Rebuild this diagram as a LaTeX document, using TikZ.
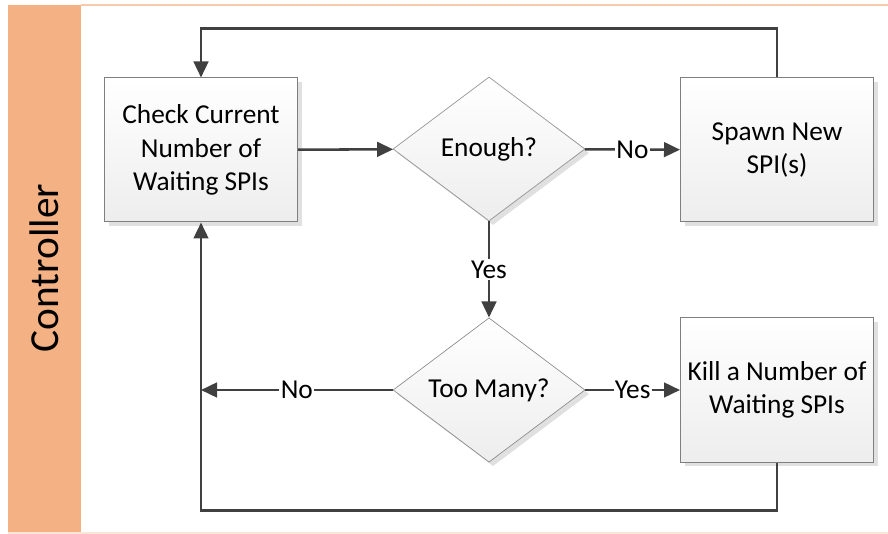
\documentclass[tikz,border=0pt]{standalone}
\usepackage{fontspec}
\setmainfont{Carlito}
\usepackage{tikz}
\usetikzlibrary{arrows.meta, shapes.geometric, shadows, positioning}

\definecolor{laneorange}{HTML}{F4B183}
\definecolor{laneline}{HTML}{F8CBAD}
\definecolor{lanelow}{HTML}{FBE5D6}
\definecolor{flowgray}{HTML}{404040}
\definecolor{edgegray}{HTML}{7F7F7F}

\tikzset{
  procbox/.style={draw=edgegray, line width=0.75pt, top color=white, bottom color=black!7,
    minimum width=144.75pt, minimum height=108pt, align=center, font=\fontsize{20.5}{25}\selectfont,
    drop shadow={shadow xshift=3pt, shadow yshift=-3pt, fill=black!12, opacity=1}},
  decide/.style={diamond, draw=edgegray!90, line width=0.5pt, top color=white, bottom color=black!7,
    minimum width=144pt, minimum height=108pt, inner sep=0pt, font=\fontsize{20.5}{25}\selectfont,
    drop shadow={shadow xshift=3pt, shadow yshift=-3pt, fill=black!12, opacity=1}},
  flow/.style={draw=flowgray, line width=1.9pt, -{Triangle[length=12pt,width=11pt]}},
  lbl/.style={fill=white, inner sep=1pt, font=\fontsize{20.5}{25}\selectfont}
}

\begin{document}
\begin{tikzpicture}[x=0.75pt, y=-0.75pt]
    \useasboundingbox (0,0) rectangle (888,534);

    % lane
    \fill[laneorange] (8,5) rectangle (81,534);
    \draw[laneline, line width=1pt] (81,5) -- (888,5);
    \draw[lanelow, line width=1pt] (8,533) -- (888,533);
    \node[rotate=90, font=\fontsize{31}{36}\selectfont] (lane) at (44.5,268) {Controller};

    % steps
    \node[procbox] (check) at (201,150) {Check Current\\Number of\\Waiting SPIs};
    \node[decide] (enough) at (489,149) {Enough?};
    \node[procbox] (spawn) at (777,150) {Spawn New\\SPI(s)};
    \node[decide] (toomany) at (489,390) {Too Many?};
    \node[procbox] (kill) at (777,390) {Kill a Number of\\Waiting SPIs};

    % arrows
    \draw[flow] (check) -- (enough);
    \draw[flow] (enough) -- node[lbl] {No} (spawn);
    \draw[flow] (enough) -- node[lbl] {Yes} (toomany);
    \draw[flow] (toomany) -- node[lbl] {Yes} (kill);
    \draw[flow] (toomany.west) -- node[lbl] {No} (toomany.west -| check.south);
    \draw[flow] (spawn.north) -- ++(0,-49) -| (check.north);
    \draw[flow] (kill.south) -- ++(0,48) -| (check.south);
\end{tikzpicture}
\end{document}
